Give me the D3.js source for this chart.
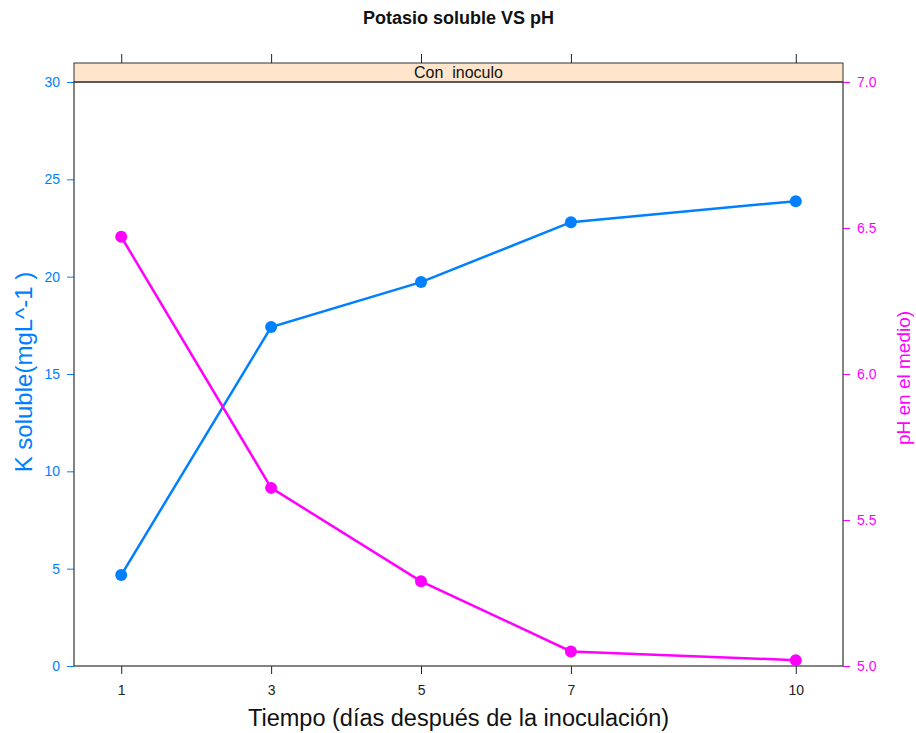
<!DOCTYPE html>
<html lang="es">
<head>
    <meta charset="UTF-8">
    <title>Potasio soluble VS pH</title>
    <script src="https://d3js.org/d3.v7.min.js"></script>
    <style>
        body { margin: 0; background: white; }
        text { font-family: Arial, "Liberation Sans", sans-serif; }
    </style>
</head>
<body>
    <svg width="916" height="733"></svg>

    <script>
        // Data
        const dias = [1, 3, 5, 7, 10];
        const kSoluble = [4.67, 17.41, 19.72, 22.8, 23.88];
        const phMedio = [6.47, 5.61, 5.29, 5.05, 5.02];
        const xTicks = [1, 3, 5, 7, 10];
        const yLeftTicks = [0, 5, 10, 15, 20, 25, 30];
        const yRightTicks = [5.0, 5.5, 6.0, 6.5, 7.0];

        const width = 916, height = 733;
        const panel = { left: 74, right: 843, top: 82, bottom: 666, stripTop: 63 };
        const blue = "#0080ff", magenta = "#ff00ff";

        const svg = d3.select("svg");

        const xScale = d3.scaleLinear()
                         .domain([0.37, 10.63])
                         .range([panel.left, panel.right]);

        const yLeft = d3.scaleLinear()
                        .domain([0, 30])
                        .range([panel.bottom, panel.top]);

        const yRight = d3.scaleLinear()
                         .domain([5, 7])
                         .range([panel.bottom, panel.top]);

        // Strip
        svg.append("rect")
           .attr("x", panel.left)
           .attr("y", panel.stripTop)
           .attr("width", panel.right - panel.left)
           .attr("height", panel.top - panel.stripTop)
           .attr("fill", "#ffe5cc")
           .attr("stroke", "#333")
           .attr("stroke-width", 1);

        svg.append("text")
           .attr("x", (panel.left + panel.right) / 2)
           .attr("y", panel.top - 4)
           .attr("text-anchor", "middle")
           .style("font-size", "16px")
           .style("white-space", "pre")
           .attr("fill", "#111")
           .text("Con  inoculo");

        // Bottom axis
        const xAxis = svg.append("g")
           .attr("transform", `translate(0,${panel.bottom})`)
           .call(d3.axisBottom(xScale).tickValues(xTicks).tickSize(8).tickPadding(11));
        xAxis.select(".domain").remove();
        xAxis.selectAll("text").style("font-size", "14px").attr("fill", "#222");
        xAxis.selectAll("line").attr("stroke", "#222");

        // Top ticks (no labels)
        const xTop = svg.append("g")
           .attr("transform", `translate(0,${panel.stripTop})`)
           .call(d3.axisTop(xScale).tickValues(xTicks).tickSize(9).tickFormat(""));
        xTop.select(".domain").remove();
        xTop.selectAll("line").attr("stroke", "#222");

        // Left axis
        const yAxisL = svg.append("g")
           .attr("transform", `translate(${panel.left},0)`)
           .call(d3.axisLeft(yLeft).tickValues(yLeftTicks).tickSize(7).tickPadding(7));
        yAxisL.select(".domain").remove();
        yAxisL.selectAll("line").attr("stroke", blue);
        yAxisL.selectAll("text").attr("fill", blue).style("font-size", "14px");

        // Right axis
        const yAxisR = svg.append("g")
           .attr("transform", `translate(${panel.right},0)`)
           .call(d3.axisRight(yRight).tickValues(yRightTicks).tickSize(7).tickPadding(7)
                   .tickFormat(d3.format(".1f")));
        yAxisR.select(".domain").remove();
        yAxisR.selectAll("line").attr("stroke", magenta);
        yAxisR.selectAll("text").attr("fill", magenta).style("font-size", "14px");

        // Panel box
        svg.append("rect")
           .attr("x", panel.left)
           .attr("y", panel.top)
           .attr("width", panel.right - panel.left)
           .attr("height", panel.bottom - panel.top)
           .attr("fill", "none")
           .attr("stroke", "#333")
           .attr("stroke-width", 1.2);

        // Series
        const rows = dias.map((d, i) => ({ t: d, k: kSoluble[i], ph: phMedio[i] }));

        const lineK = d3.line().x(d => xScale(d.t)).y(d => yLeft(d.k));
        const linePh = d3.line().x(d => xScale(d.t)).y(d => yRight(d.ph));

        svg.append("path")
           .datum(rows)
           .attr("fill", "none")
           .attr("stroke", blue)
           .attr("stroke-width", 2.5)
           .attr("d", lineK);

        svg.selectAll(".dot-k")
           .data(rows)
           .enter().append("circle")
           .attr("class", "dot-k")
           .attr("cx", d => xScale(d.t))
           .attr("cy", d => yLeft(d.k))
           .attr("r", 6)
           .attr("fill", blue);

        svg.append("path")
           .datum(rows)
           .attr("fill", "none")
           .attr("stroke", magenta)
           .attr("stroke-width", 2.5)
           .attr("d", linePh);

        svg.selectAll(".dot-ph")
           .data(rows)
           .enter().append("circle")
           .attr("class", "dot-ph")
           .attr("cx", d => xScale(d.t))
           .attr("cy", d => yRight(d.ph))
           .attr("r", 6)
           .attr("fill", magenta);

        // Title
        svg.append("text")
           .attr("x", (panel.left + panel.right) / 2)
           .attr("y", 24)
           .attr("text-anchor", "middle")
           .style("font-size", "18px")
           .style("font-weight", "bold")
           .attr("fill", "#111")
           .text("Potasio soluble VS pH");

        // X label
        svg.append("text")
           .attr("x", (panel.left + panel.right) / 2)
           .attr("y", 726)
           .attr("text-anchor", "middle")
           .style("font-size", "23.5px")
           .attr("fill", "#111")
           .text("Tiempo (días después de la inoculación)");

        // Left Y label
        svg.append("text")
           .attr("transform", "rotate(-90)")
           .attr("x", -372)
           .attr("y", 32)
           .attr("text-anchor", "middle")
           .style("font-size", "24px")
           .attr("fill", blue)
           .text("K soluble(mgL^-1 )");

        // Right Y label
        svg.append("text")
           .attr("transform", "rotate(-90)")
           .attr("x", -378)
           .attr("y", 910)
           .attr("text-anchor", "middle")
           .style("font-size", "19px")
           .attr("fill", magenta)
           .text("pH en el medio)");
    </script>
</body>
</html>
